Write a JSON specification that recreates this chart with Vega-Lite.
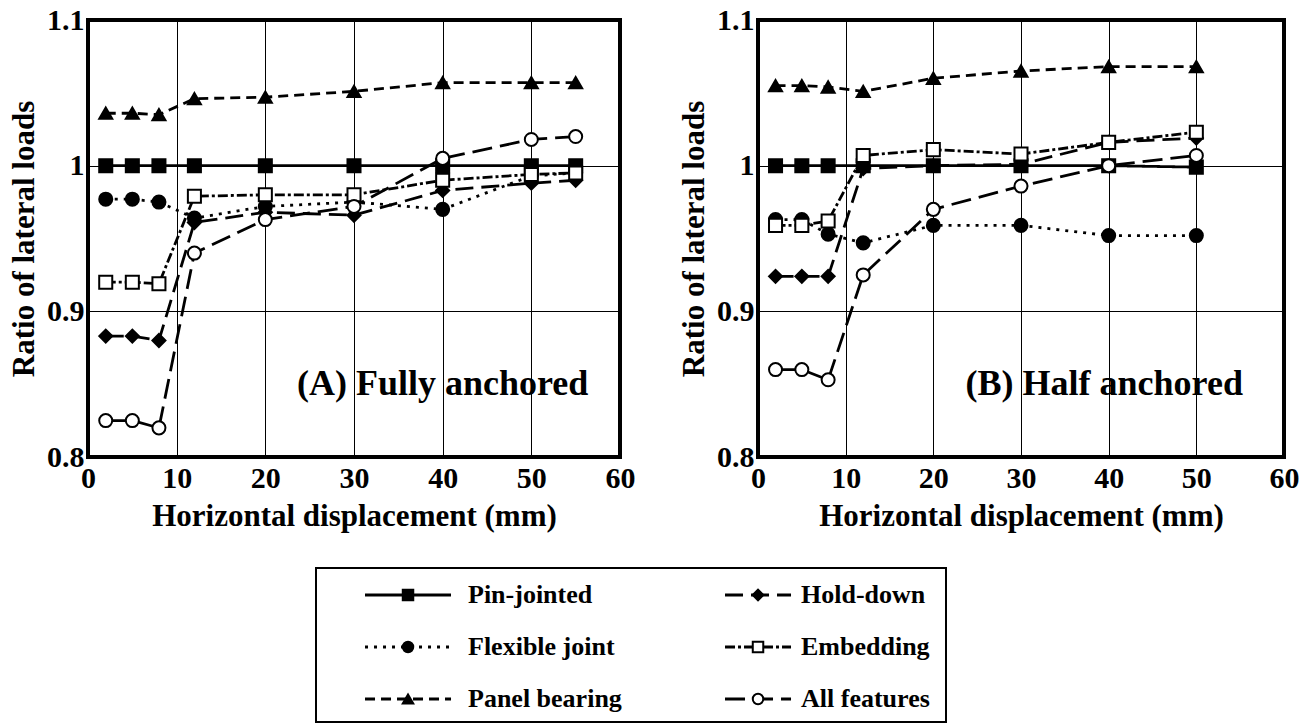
{
  "$schema": "https://vega.github.io/schema/vega-lite/v6.json",
  "padding": {"left": 6, "top": 3, "right": 0, "bottom": 0},
  "background": "white",
  "config": {
    "font": "Liberation Serif",
    "view": {"stroke": "black", "strokeWidth": 4},
    "axis": {
      "labelFont": "Liberation Serif", "labelFontWeight": "bold", "labelFontSize": 30, "labelColor": "black",
      "titleFont": "Liberation Serif", "titleFontWeight": "bold", "titleFontSize": 31, "titleColor": "black",
      "grid": true, "gridColor": "black", "gridOpacity": 1, "gridWidth": 1,
      "ticks": false, "domain": false, "labelFlush": false, "labelOverlap": false
    }
  },
  "datasets": {
    "curves": [
      {"panel": "A", "series": "Pin-jointed", "x": 2, "y": 1.0},
      {"panel": "A", "series": "Pin-jointed", "x": 5, "y": 1.0},
      {"panel": "A", "series": "Pin-jointed", "x": 8, "y": 1.0},
      {"panel": "A", "series": "Pin-jointed", "x": 12, "y": 1.0},
      {"panel": "A", "series": "Pin-jointed", "x": 20, "y": 1.0},
      {"panel": "A", "series": "Pin-jointed", "x": 30, "y": 1.0},
      {"panel": "A", "series": "Pin-jointed", "x": 40, "y": 1.0},
      {"panel": "A", "series": "Pin-jointed", "x": 50, "y": 1.0},
      {"panel": "A", "series": "Pin-jointed", "x": 55, "y": 1.0},
      {"panel": "A", "series": "Flexible joint", "x": 2, "y": 0.977},
      {"panel": "A", "series": "Flexible joint", "x": 5, "y": 0.977},
      {"panel": "A", "series": "Flexible joint", "x": 8, "y": 0.975},
      {"panel": "A", "series": "Flexible joint", "x": 12, "y": 0.964},
      {"panel": "A", "series": "Flexible joint", "x": 20, "y": 0.972},
      {"panel": "A", "series": "Flexible joint", "x": 30, "y": 0.975},
      {"panel": "A", "series": "Flexible joint", "x": 40, "y": 0.970},
      {"panel": "A", "series": "Flexible joint", "x": 50, "y": 0.993},
      {"panel": "A", "series": "Flexible joint", "x": 55, "y": 0.995},
      {"panel": "A", "series": "Panel bearing", "x": 2, "y": 1.036},
      {"panel": "A", "series": "Panel bearing", "x": 5, "y": 1.036},
      {"panel": "A", "series": "Panel bearing", "x": 8, "y": 1.035},
      {"panel": "A", "series": "Panel bearing", "x": 12, "y": 1.046},
      {"panel": "A", "series": "Panel bearing", "x": 20, "y": 1.047},
      {"panel": "A", "series": "Panel bearing", "x": 30, "y": 1.051},
      {"panel": "A", "series": "Panel bearing", "x": 40, "y": 1.057},
      {"panel": "A", "series": "Panel bearing", "x": 50, "y": 1.057},
      {"panel": "A", "series": "Panel bearing", "x": 55, "y": 1.057},
      {"panel": "A", "series": "Hold-down", "x": 2, "y": 0.883},
      {"panel": "A", "series": "Hold-down", "x": 5, "y": 0.883},
      {"panel": "A", "series": "Hold-down", "x": 8, "y": 0.880},
      {"panel": "A", "series": "Hold-down", "x": 12, "y": 0.961},
      {"panel": "A", "series": "Hold-down", "x": 20, "y": 0.968},
      {"panel": "A", "series": "Hold-down", "x": 30, "y": 0.966},
      {"panel": "A", "series": "Hold-down", "x": 40, "y": 0.983},
      {"panel": "A", "series": "Hold-down", "x": 50, "y": 0.988},
      {"panel": "A", "series": "Hold-down", "x": 55, "y": 0.990},
      {"panel": "A", "series": "Embedding", "x": 2, "y": 0.920},
      {"panel": "A", "series": "Embedding", "x": 5, "y": 0.920},
      {"panel": "A", "series": "Embedding", "x": 8, "y": 0.919},
      {"panel": "A", "series": "Embedding", "x": 12, "y": 0.979},
      {"panel": "A", "series": "Embedding", "x": 20, "y": 0.980},
      {"panel": "A", "series": "Embedding", "x": 30, "y": 0.980},
      {"panel": "A", "series": "Embedding", "x": 40, "y": 0.990},
      {"panel": "A", "series": "Embedding", "x": 50, "y": 0.994},
      {"panel": "A", "series": "Embedding", "x": 55, "y": 0.995},
      {"panel": "A", "series": "All features", "x": 2, "y": 0.825},
      {"panel": "A", "series": "All features", "x": 5, "y": 0.825},
      {"panel": "A", "series": "All features", "x": 8, "y": 0.820},
      {"panel": "A", "series": "All features", "x": 12, "y": 0.940},
      {"panel": "A", "series": "All features", "x": 20, "y": 0.963},
      {"panel": "A", "series": "All features", "x": 30, "y": 0.972},
      {"panel": "A", "series": "All features", "x": 40, "y": 1.005},
      {"panel": "A", "series": "All features", "x": 50, "y": 1.018},
      {"panel": "A", "series": "All features", "x": 55, "y": 1.020},
      {"panel": "B", "series": "Pin-jointed", "x": 2, "y": 1.0},
      {"panel": "B", "series": "Pin-jointed", "x": 5, "y": 1.0},
      {"panel": "B", "series": "Pin-jointed", "x": 8, "y": 1.0},
      {"panel": "B", "series": "Pin-jointed", "x": 12, "y": 1.0},
      {"panel": "B", "series": "Pin-jointed", "x": 20, "y": 1.0},
      {"panel": "B", "series": "Pin-jointed", "x": 30, "y": 1.0},
      {"panel": "B", "series": "Pin-jointed", "x": 40, "y": 1.0},
      {"panel": "B", "series": "Pin-jointed", "x": 50, "y": 0.999},
      {"panel": "B", "series": "Flexible joint", "x": 2, "y": 0.963},
      {"panel": "B", "series": "Flexible joint", "x": 5, "y": 0.963},
      {"panel": "B", "series": "Flexible joint", "x": 8, "y": 0.953},
      {"panel": "B", "series": "Flexible joint", "x": 12, "y": 0.947},
      {"panel": "B", "series": "Flexible joint", "x": 20, "y": 0.959},
      {"panel": "B", "series": "Flexible joint", "x": 30, "y": 0.959},
      {"panel": "B", "series": "Flexible joint", "x": 40, "y": 0.952},
      {"panel": "B", "series": "Flexible joint", "x": 50, "y": 0.952},
      {"panel": "B", "series": "Panel bearing", "x": 2, "y": 1.055},
      {"panel": "B", "series": "Panel bearing", "x": 5, "y": 1.055},
      {"panel": "B", "series": "Panel bearing", "x": 8, "y": 1.054},
      {"panel": "B", "series": "Panel bearing", "x": 12, "y": 1.051},
      {"panel": "B", "series": "Panel bearing", "x": 20, "y": 1.060},
      {"panel": "B", "series": "Panel bearing", "x": 30, "y": 1.065},
      {"panel": "B", "series": "Panel bearing", "x": 40, "y": 1.068},
      {"panel": "B", "series": "Panel bearing", "x": 50, "y": 1.068},
      {"panel": "B", "series": "Hold-down", "x": 2, "y": 0.924},
      {"panel": "B", "series": "Hold-down", "x": 5, "y": 0.924},
      {"panel": "B", "series": "Hold-down", "x": 8, "y": 0.924},
      {"panel": "B", "series": "Hold-down", "x": 12, "y": 0.998},
      {"panel": "B", "series": "Hold-down", "x": 20, "y": 1.0},
      {"panel": "B", "series": "Hold-down", "x": 30, "y": 1.001},
      {"panel": "B", "series": "Hold-down", "x": 40, "y": 1.016},
      {"panel": "B", "series": "Hold-down", "x": 50, "y": 1.019},
      {"panel": "B", "series": "Embedding", "x": 2, "y": 0.959},
      {"panel": "B", "series": "Embedding", "x": 5, "y": 0.959},
      {"panel": "B", "series": "Embedding", "x": 8, "y": 0.962},
      {"panel": "B", "series": "Embedding", "x": 12, "y": 1.007},
      {"panel": "B", "series": "Embedding", "x": 20, "y": 1.011},
      {"panel": "B", "series": "Embedding", "x": 30, "y": 1.008},
      {"panel": "B", "series": "Embedding", "x": 40, "y": 1.016},
      {"panel": "B", "series": "Embedding", "x": 50, "y": 1.023},
      {"panel": "B", "series": "All features", "x": 2, "y": 0.860},
      {"panel": "B", "series": "All features", "x": 5, "y": 0.860},
      {"panel": "B", "series": "All features", "x": 8, "y": 0.853},
      {"panel": "B", "series": "All features", "x": 12, "y": 0.925},
      {"panel": "B", "series": "All features", "x": 20, "y": 0.970},
      {"panel": "B", "series": "All features", "x": 30, "y": 0.986},
      {"panel": "B", "series": "All features", "x": 40, "y": 1.0},
      {"panel": "B", "series": "All features", "x": 50, "y": 1.007}
    ],
    "labels": [
      {"panel": "A", "label": "(A) Fully anchored"},
      {"panel": "B", "label": "(B) Half anchored"}
    ],
    "legend": [
      {"series": "Pin-jointed", "col": 1, "row": 1},
      {"series": "Flexible joint", "col": 1, "row": 2},
      {"series": "Panel bearing", "col": 1, "row": 3},
      {"series": "Hold-down", "col": 2, "row": 1},
      {"series": "Embedding", "col": 2, "row": 2},
      {"series": "All features", "col": 2, "row": 3}
    ]
  },
  "bounds": "flush",
  "spacing": 548,
  "resolve": {"scale": {"x": "independent", "y": "independent"}},
  "vconcat": [
    {
      "bounds": "flush",
      "spacing": 138,
      "resolve": {"scale": {"x": "independent", "y": "independent"}},
      "hconcat": [
        {
          "width": 532, "height": 437,
          "layer": [
            {
              "data": {"name": "curves"},
              "transform": [{"filter": "datum.panel === 'A'"}],
              "mark": {"type": "line", "strokeWidth": 2.8, "color": "black"},
              "encoding": {
                "x": {"field": "x", "type": "quantitative", "scale": {"domain": [0, 60], "nice": false}, "axis": {"values": [0, 10, 20, 30, 40, 50, 60], "title": "Horizontal displacement (mm)", "labelPadding": 6, "titlePadding": 8}},
                "y": {"field": "y", "type": "quantitative", "scale": {"domain": [0.8, 1.1], "nice": false, "zero": false}, "axis": {"values": [0.8, 0.9, 1, 1.1], "format": ".1~f", "title": "Ratio of lateral loads", "labelPadding": 4, "titlePadding": 6}},
                "strokeDash": {"field": "series", "type": "nominal", "scale": {"domain": ["Pin-jointed", "Flexible joint", "Panel bearing", "Hold-down", "Embedding", "All features"], "range": [[1, 0], [3, 6], [10, 6], [18, 8], [10, 3, 3, 3], [20, 8]]}, "legend": null}
              }
            },
            {
              "data": {"name": "curves"},
              "transform": [{"filter": "datum.panel === 'A'"}],
              "mark": {"type": "point", "filled": true, "stroke": "black", "strokeWidth": 2, "opacity": 1, "size": 170},
              "encoding": {
                "x": {"field": "x", "type": "quantitative"},
                "y": {"field": "y", "type": "quantitative"},
                "shape": {"field": "series", "type": "nominal", "scale": {"domain": ["Pin-jointed", "Flexible joint", "Panel bearing", "Hold-down", "Embedding", "All features"], "range": ["square", "circle", "triangle-up", "diamond", "square", "circle"]}, "legend": null},
                "fill": {"field": "series", "type": "nominal", "scale": {"domain": ["Pin-jointed", "Flexible joint", "Panel bearing", "Hold-down", "Embedding", "All features"], "range": ["black", "black", "black", "black", "white", "white"]}, "legend": null}
              }
            },
            {
              "data": {"name": "labels"},
              "transform": [{"filter": "datum.panel === 'A'"}],
              "mark": {"type": "text", "font": "Liberation Serif", "fontWeight": "bold", "fontSize": 36, "align": "center", "baseline": "middle", "color": "black"},
              "encoding": {
                "x": {"datum": 40},
                "y": {"datum": 0.85},
                "text": {"field": "label"}
              }
            }
          ]
        },
        {
          "width": 526, "height": 437,
          "layer": [
            {
              "data": {"name": "curves"},
              "transform": [{"filter": "datum.panel === 'B'"}],
              "mark": {"type": "line", "strokeWidth": 2.8, "color": "black"},
              "encoding": {
                "x": {"field": "x", "type": "quantitative", "scale": {"domain": [0, 60], "nice": false}, "axis": {"values": [0, 10, 20, 30, 40, 50, 60], "title": "Horizontal displacement (mm)", "labelPadding": 6, "titlePadding": 8}},
                "y": {"field": "y", "type": "quantitative", "scale": {"domain": [0.8, 1.1], "nice": false, "zero": false}, "axis": {"values": [0.8, 0.9, 1, 1.1], "format": ".1~f", "title": "Ratio of lateral loads", "labelPadding": 4, "titlePadding": 6}},
                "strokeDash": {"field": "series", "type": "nominal", "scale": {"domain": ["Pin-jointed", "Flexible joint", "Panel bearing", "Hold-down", "Embedding", "All features"], "range": [[1, 0], [3, 6], [10, 6], [18, 8], [10, 3, 3, 3], [20, 8]]}, "legend": null}
              }
            },
            {
              "data": {"name": "curves"},
              "transform": [{"filter": "datum.panel === 'B'"}],
              "mark": {"type": "point", "filled": true, "stroke": "black", "strokeWidth": 2, "opacity": 1, "size": 170},
              "encoding": {
                "x": {"field": "x", "type": "quantitative"},
                "y": {"field": "y", "type": "quantitative"},
                "shape": {"field": "series", "type": "nominal", "scale": {"domain": ["Pin-jointed", "Flexible joint", "Panel bearing", "Hold-down", "Embedding", "All features"], "range": ["square", "circle", "triangle-up", "diamond", "square", "circle"]}, "legend": null},
                "fill": {"field": "series", "type": "nominal", "scale": {"domain": ["Pin-jointed", "Flexible joint", "Panel bearing", "Hold-down", "Embedding", "All features"], "range": ["black", "black", "black", "black", "white", "white"]}, "legend": null}
              }
            },
            {
              "data": {"name": "labels"},
              "transform": [{"filter": "datum.panel === 'B'"}],
              "mark": {"type": "text", "font": "Liberation Serif", "fontWeight": "bold", "fontSize": 36, "align": "center", "baseline": "middle", "color": "black"},
              "encoding": {
                "x": {"datum": 39.5},
                "y": {"datum": 0.85},
                "text": {"field": "label"}
              }
            }
          ]
        }
      ]
    },
    {
      "bounds": "flush",
      "spacing": 10,
      "resolve": {"scale": {"x": "independent", "y": "independent"}},
      "hconcat": [
        {
          "width": 218, "height": 154,
          "view": {"stroke": null},
          "data": {"values": []},
          "mark": "point"
        },
        {
          "width": 630, "height": 154,
          "view": {"stroke": "black", "strokeWidth": 2},
          "data": {"name": "legend"},
          "encoding": {
            "x": {"field": "col", "type": "quantitative", "scale": {"domain": [0.7371, 2.5371], "range": [0, 630], "nice": false, "zero": false}, "axis": null},
            "y": {"field": "row", "type": "quantitative", "scale": {"domain": [0.4808, 3.4423], "range": [0, 154], "nice": false, "zero": false}, "axis": null}
          },
          "layer": [
            {
              "transform": [{"filter": "datum.col === 1"}],
              "mark": {"type": "rule", "strokeWidth": 2.8, "color": "black", "xOffset": -43, "x2Offset": 43},
              "encoding": {
                "x2": {"field": "col"},
                "strokeDash": {"field": "series", "type": "nominal", "scale": {"domain": ["Pin-jointed", "Flexible joint", "Panel bearing", "Hold-down", "Embedding", "All features"], "range": [[1, 0], [3, 6], [10, 6], [18, 8], [10, 3, 3, 3], [20, 8]]}, "legend": null}
              }
            },
            {
              "transform": [{"filter": "datum.col === 2"}],
              "mark": {"type": "rule", "strokeWidth": 2.8, "color": "black", "xOffset": -33, "x2Offset": 33},
              "encoding": {
                "x2": {"field": "col"},
                "strokeDash": {"field": "series", "type": "nominal", "scale": {"domain": ["Pin-jointed", "Flexible joint", "Panel bearing", "Hold-down", "Embedding", "All features"], "range": [[1, 0], [3, 6], [10, 6], [18, 8], [10, 3, 3, 3], [20, 8]]}, "legend": null}
              }
            },
            {
              "mark": {"type": "point", "filled": true, "stroke": "black", "strokeWidth": 2, "opacity": 1, "size": 110},
              "encoding": {
                "shape": {"field": "series", "type": "nominal", "scale": {"domain": ["Pin-jointed", "Flexible joint", "Panel bearing", "Hold-down", "Embedding", "All features"], "range": ["square", "circle", "triangle-up", "diamond", "square", "circle"]}, "legend": null},
                "fill": {"field": "series", "type": "nominal", "scale": {"domain": ["Pin-jointed", "Flexible joint", "Panel bearing", "Hold-down", "Embedding", "All features"], "range": ["black", "black", "black", "black", "white", "white"]}, "legend": null}
              }
            },
            {
              "transform": [{"filter": "datum.col === 1"}],
              "mark": {"type": "text", "align": "left", "baseline": "middle", "dx": 60, "font": "Liberation Serif", "fontWeight": "bold", "fontSize": 26, "color": "black"},
              "encoding": {"text": {"field": "series"}}
            },
            {
              "transform": [{"filter": "datum.col === 2"}],
              "mark": {"type": "text", "align": "left", "baseline": "middle", "dx": 43, "font": "Liberation Serif", "fontWeight": "bold", "fontSize": 26, "color": "black"},
              "encoding": {"text": {"field": "series"}}
            }
          ]
        }
      ]
    }
  ]
}
